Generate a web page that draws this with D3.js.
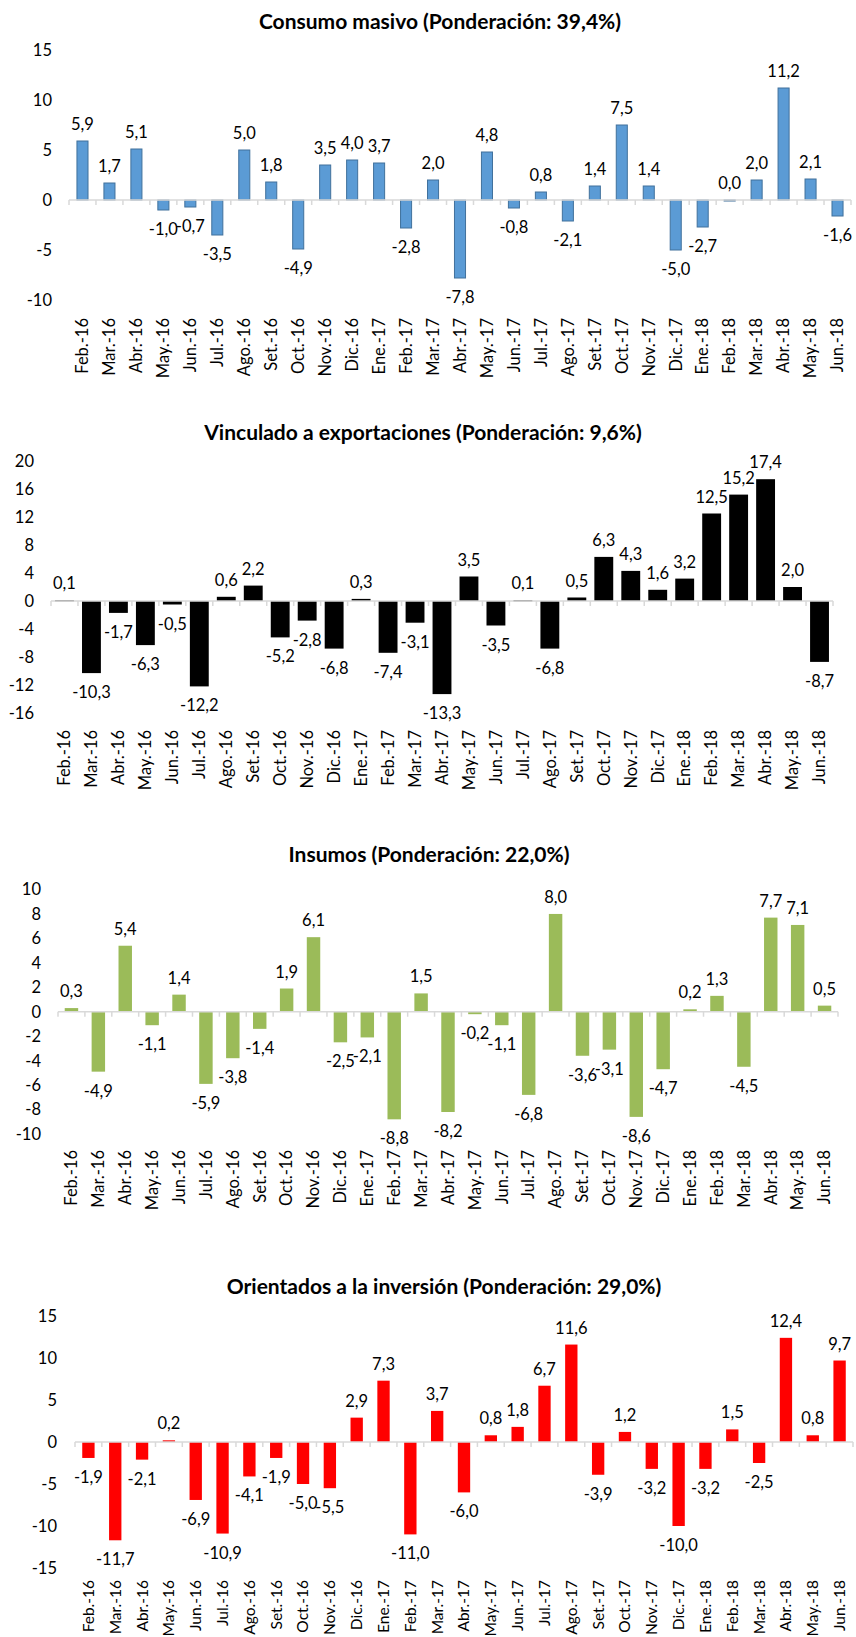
<!DOCTYPE html>
<html>
<head>
<meta charset="utf-8">
<script src="https://cdn.jsdelivr.net/npm/d3@7"></script>
<style>
  body { margin: 0; background: #fff; }
  text { font-family: Lato, "Open Sans", sans-serif; fill: #000; }
</style>
</head>
<body>
<div id="chart"></div>
<script>
// months shared by all four panels
var months = ["Feb.-16","Mar.-16","Abr.-16","May.-16","Jun.-16","Jul.-16","Ago.-16","Set.-16","Oct.-16","Nov.-16","Dic.-16","Ene.-17",
  "Feb.-17","Mar.-17","Abr.-17","May.-17","Jun.-17","Jul.-17","Ago.-17","Set.-17","Oct.-17","Nov.-17","Dic.-17","Ene.-18",
  "Feb.-18","Mar.-18","Abr.-18","May.-18","Jun.-18"];

var consumoMasivo = [5.9,1.7,5.1,-1.0,-0.7,-3.5,5.0,1.8,-4.9,3.5,4.0,3.7,-2.8,2.0,-7.8,4.8,-0.8,0.8,-2.1,1.4,7.5,1.4,-5.0,-2.7,0.0,2.0,11.2,2.1,-1.6];
var exportaciones = [0.1,-10.3,-1.7,-6.3,-0.5,-12.2,0.6,2.2,-5.2,-2.8,-6.8,0.3,-7.4,-3.1,-13.3,3.5,-3.5,0.1,-6.8,0.5,6.3,4.3,1.6,3.2,12.5,15.2,17.4,2.0,-8.7];
var insumos = [0.3,-4.9,5.4,-1.1,1.4,-5.9,-3.8,-1.4,1.9,6.1,-2.5,-2.1,-8.8,1.5,-8.2,-0.2,-1.1,-6.8,8.0,-3.6,-3.1,-8.6,-4.7,0.2,1.3,-4.5,7.7,7.1,0.5];
var inversion = [-1.9,-11.7,-2.1,0.2,-6.9,-10.9,-4.1,-1.9,-5.0,-5.5,2.9,7.3,-11.0,3.7,-6.0,0.8,1.8,6.7,11.6,-3.9,1.2,-3.2,-10.0,-3.2,1.5,-2.5,12.4,0.8,9.7];

var ticks1 = [-10,-5,0,5,10,15];
var ticks2 = [-16,-12,-8,-4,0,4,8,12,16,20];
var ticks3 = [-10,-8,-6,-4,-2,0,2,4,6,8,10];
var ticks4 = [-15,-10,-5,0,5,10,15];

var W = 856, H = 1637;
var svg = d3.select("#chart").append("svg").attr("width", W).attr("height", H);

var panels = [
  {title:"Consumo masivo (Ponderación: 39,4%)", values:consumoMasivo, ticks:ticks1, color:"#5b9bd5", stroke:"#41719c",
   x0:69, x1:851, yTop:50, yBot:300, titleY:29, tickX:52, barRatio:0.41, labY:318, labSize:16.5, titleX:440},
  {title:"Vinculado a exportaciones (Ponderación: 9,6%)", values:exportaciones, ticks:ticks2, color:"#000000", stroke:"none",
   x0:51, x1:833, yTop:461, yBot:713, titleY:440, tickX:34, barRatio:0.7, labY:730, labSize:16.5, titleX:423},
  {title:"Insumos (Ponderación: 22,0%)", values:insumos, ticks:ticks3, color:"#9bbb59", stroke:"none",
   x0:58, x1:838, yTop:889.5, yBot:1134, titleY:862, tickX:41, barRatio:0.5, labY:1150, labSize:16.5, titleX:429},
  {title:"Orientados a la inversión (Ponderación: 29,0%)", values:inversion, ticks:ticks4, color:"#ff0000", stroke:"none",
   x0:75, x1:853, yTop:1316, yBot:1568, titleY:1294, tickX:57, barRatio:0.46, labY:1580, labSize:15.5, titleX:444}
];

function fmt(v){ return v.toFixed(1).replace(".", ","); }

panels.forEach(function(p){
  var g = svg.append("g");
  var tmin = d3.min(p.ticks), tmax = d3.max(p.ticks);
  var y = d3.scaleLinear().domain([tmin, tmax]).range([p.yBot, p.yTop]);
  var x = d3.scaleBand().domain(months).range([p.x0, p.x1])
      .paddingInner(1 - p.barRatio).paddingOuter((1 - p.barRatio)/2);
  var step = x.step();

  // title
  g.append("text")
    .attr("x", p.titleX).attr("y", p.titleY)
    .attr("text-anchor","middle")
    .style("font-size","21px").style("font-weight","bold")
    .text(p.title);

  // y tick labels
  g.selectAll(".yt").data(p.ticks).enter().append("text")
    .attr("x", p.tickX).attr("y", function(d){ return y(d); })
    .attr("dy","0.36em").attr("text-anchor","end")
    .style("font-size","16.5px")
    .text(function(d){ return d; });

  // bars
  g.selectAll(".bar").data(p.values).enter().append("rect")
    .attr("x", function(d,i){ return x(months[i]); })
    .attr("width", x.bandwidth())
    .attr("y", function(d){ return Math.min(y(d), y(0)); })
    .attr("height", function(d){ return Math.max(Math.abs(y(d) - y(0)), 1); })
    .style("fill", p.color)
    .style("stroke", p.stroke)
    .style("stroke-width", 1);

  // category axis
  var ax = g.append("g");
  ax.append("line")
    .attr("x1", p.x0).attr("x2", p.x1)
    .attr("y1", y(0)).attr("y2", y(0))
    .style("stroke","#d9d9d9").style("stroke-width",1.5);
  ax.selectAll(".tk").data(d3.range(months.length + 1)).enter().append("line")
    .attr("x1", function(i){ return p.x0 + i*step; })
    .attr("x2", function(i){ return p.x0 + i*step; })
    .attr("y1", y(0)).attr("y2", y(0) + 5)
    .style("stroke","#d9d9d9").style("stroke-width",1.5);

  // data labels
  g.selectAll(".lab").data(p.values).enter().append("text")
    .attr("x", function(d,i){ return x(months[i]) + x.bandwidth()/2; })
    .attr("y", function(d){ return d >= 0 ? y(d) - 11 : y(d) + 25; })
    .attr("text-anchor","middle")
    .style("font-size","16.5px")
    .text(function(d){ return fmt(d); });

  // month labels, rotated
  g.selectAll(".ml").data(months).enter().append("text")
    .attr("transform", function(d){ return "translate(" + (x(d) + x.bandwidth()/2) + "," + p.labY + ") rotate(-90)"; })
    .attr("text-anchor","end")
    .attr("dy","0.35em")
    .style("font-size", p.labSize + "px")
    .text(function(d){ return d; });
});
</script>
</body>
</html>
